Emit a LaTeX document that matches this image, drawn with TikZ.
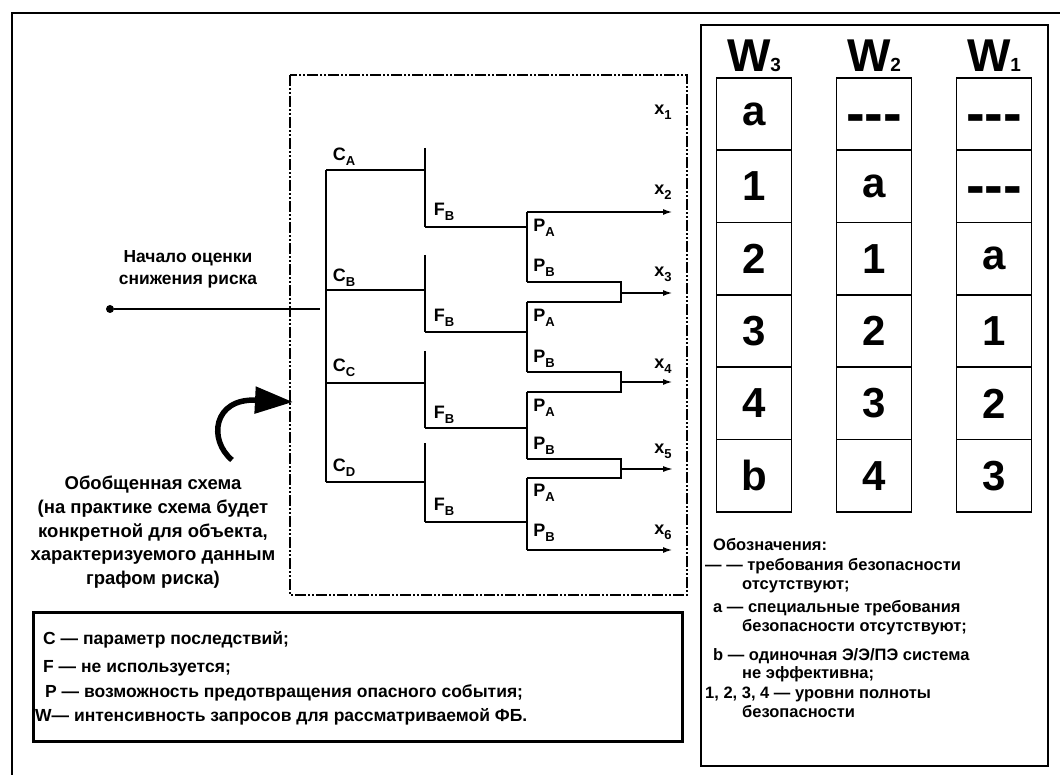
\documentclass[tikz,border=0pt]{standalone}
\usepackage{fontspec}
\usepackage{graphicx}
\setmainfont{Liberation Sans}
\usetikzlibrary{arrows.meta}
\newcommand\lsub[1]{\raisebox{-0.5ex}{\fontsize{13}{14}\selectfont #1}}
\newcommand\tdash{\raisebox{-18pt}[0pt][0pt]{\fontsize{56}{56}\selectfont -{}-{}-}}
\newcommand\wsub[1]{\fontsize{19}{19}\selectfont #1}
\begin{document}
\begin{tikzpicture}[x=1pt,y=-1pt,
  ln/.style={line width=2.7pt},
  lnt/.style={line width=1.5pt},
  arr/.style={-{Latex[length=10pt,width=6pt]}},
  lab/.style={font=\fontsize{18}{20}\selectfont\bfseries, inner sep=0pt},
  txt/.style={font=\fontsize{17.4}{19}\selectfont\bfseries, inner sep=0pt},
  gtxt/.style={font=\fontsize{18.5}{20}\selectfont\bfseries, inner sep=0pt},
  lg/.style={font=\fontsize{17.5}{19}\selectfont\bfseries, inner sep=0pt, anchor=base west},
  rg/.style={font=\fontsize{16.5}{18}\selectfont\bfseries, inner sep=0pt, anchor=base west},
  cell/.style={draw, line width=1.8pt, minimum width=75pt, minimum height=72.3pt, inner sep=0pt, font=\fontsize{42}{44}\selectfont\bfseries},
  whead/.style={inner sep=0pt, anchor=base, font=\fontsize{46}{48}\selectfont\bfseries},
  dd/.style={line width=2.8pt, dash pattern=on 11pt off 2pt on 2pt off 2pt on 2pt off 2pt}]
\useasboundingbox (0,0) rectangle (1060,775);
% outer frame
\draw[line width=2.5pt] (12,13) rectangle (1080,800);
% dash-dot frame
\draw[dd] (290,75) rectangle (687,595);

% start of assessment
\node[circle, fill, inner sep=0pt, minimum size=8pt] (start) at (110,309) {};
\coordinate (inp) at (320,309);
\draw[line width=2.2pt] (start) -- (inp);
\node[txt] (t1) at (188,258) {Начало оценки};
\node[txt] (t2) at (188,282) {снижения риска};

% C level
\coordinate (c0) at (326,170);
\coordinate (c1) at (326,290);
\coordinate (c2) at (326,383);
\coordinate (c3) at (326,482);
\draw[ln] (c0) -- (c3);
\coordinate (f0) at (425,170);
\coordinate (f1) at (425,290);
\coordinate (f2) at (425,383);
\coordinate (f3) at (425,482);
\draw[ln] (c0) -- (f0);
\draw[ln] (c1) -- (f1);
\draw[lnt] (c2) -- (f2);
\draw[ln] (c3) -- (f3);
\node[lab] (lca) at (344,157) {C\lsub{A}};
\node[lab] (lcb) at (344,278) {C\lsub{B}};
\node[lab] (lcc) at (344,368) {C\lsub{C}};
\node[lab] (lcd) at (344,468) {C\lsub{D}};

% F level
\coordinate (fa0) at (425,148); \coordinate (fb0) at (425,227);
\coordinate (fa1) at (425,255); \coordinate (fb1) at (425,332);
\coordinate (fa2) at (425,351); \coordinate (fb2) at (425,428);
\coordinate (fa3) at (425,443); \coordinate (fb3) at (425,522);
\coordinate (p0) at (527,227);
\coordinate (p1) at (527,332);
\coordinate (p2) at (527,428);
\coordinate (p3) at (527,522);
\draw[ln] (fa0) -- (fb0);
\draw[ln] (fa1) -- (fb1);
\draw[ln] (fa2) -- (fb2);
\draw[ln] (fa3) -- (fb3);
\draw[ln] (fb0) -- (p0);
\draw[lnt] (fb1) -- (p1);
\draw[ln] (fb2) -- (p2);
\draw[lnt] (fb3) -- (p3);
\node[lab] (lf0) at (444,212) {F\lsub{B}};
\node[lab] (lf1) at (444,318) {F\lsub{B}};
\node[lab] (lf2) at (444,415) {F\lsub{B}};
\node[lab] (lf3) at (444,507) {F\lsub{B}};

% P level
\coordinate (pa0) at (527,212); \coordinate (pb0) at (527,282);
\coordinate (pa1) at (527,302); \coordinate (pb1) at (527,372);
\coordinate (pa2) at (527,392); \coordinate (pb2) at (527,459);
\coordinate (pa3) at (527,478); \coordinate (pb3) at (527,550);
\draw[ln] (pa0) -- (pb0);
\draw[ln] (pa1) -- (pb1);
\draw[ln] (pa2) -- (pb2);
\draw[ln] (pa3) -- (pb3);
\node[lab] (lpa0) at (544,228) {P\lsub{A}};
\node[lab] (lpb0) at (544,268) {P\lsub{B}};
\node[lab] (lpa1) at (544,318) {P\lsub{A}};
\node[lab] (lpb1) at (544,359) {P\lsub{B}};
\node[lab] (lpa2) at (544,408) {P\lsub{A}};
\node[lab] (lpb2) at (544,446) {P\lsub{B}};
\node[lab] (lpa3) at (544,493) {P\lsub{A}};
\node[lab] (lpb3) at (544,533) {P\lsub{B}};

% outcomes
\coordinate (o2) at (673,212);
\coordinate (o3) at (673,293);
\coordinate (o4) at (673,382);
\coordinate (o5) at (673,469);
\coordinate (o6) at (673,550);
\coordinate (m3) at (621,293);
\coordinate (m4) at (621,382);
\coordinate (m5) at (621,469);
\draw[ln,arr] (pa0) -- (o2);
\draw[ln] (pb0) -| (m3) |- (pa1);
\draw[ln,arr] (m3) -- (o3);
\draw[ln] (pb1) -| (m4) |- (pa2);
\draw[ln,arr] (m4) -- (o4);
\draw[lnt] (pb2) -| (m5);
\draw[ln] (m5) |- (pa3);
\draw[lnt,arr] (m5) -- (o5);
\draw[ln,arr] (pb3) -- (o6);
\node[lab] (x1) at (663,112) {x\lsub{1}};
\node[lab] (x2) at (663,192) {x\lsub{2}};
\node[lab] (x3) at (663,274) {x\lsub{3}};
\node[lab] (x4) at (663,366) {x\lsub{4}};
\node[lab] (x5) at (663,451) {x\lsub{5}};
\node[lab] (x6) at (663,532) {x\lsub{6}};

% generalized scheme note and curved arrow
\node[gtxt] (g1) at (153,485) {Обобщенная схема};
\node[gtxt] (g2) at (153,509) {(на практике схема будет};
\node[gtxt] (g3) at (153,533) {конкретной для объекта,};
\node[gtxt] (g4) at (153,557) {характеризуемого данным};
\node[gtxt] (g5) at (153,580) {графом риска)};
\coordinate (ca) at (232,460);
\coordinate (cb) at (293,402);
\draw[line width=5.5pt, -{Triangle[length=38pt,width=26pt]}] (ca) .. controls (208,440) and (213,398) .. (cb);

% bottom-left legend
\draw[line width=3pt] (33,612) rectangle (682,741);
\node[lg] (l1) at (43,644) {C — параметр последствий;};
\node[lg] (l2) at (43,672) {F — не используется;};
\node[lg] (l3) at (45,697) {P — возможность предотвращения опасного события;};
\node[lg] (l4) at (35,721) {W— интенсивность запросов для рассматриваемой ФБ.};

% right panel
\draw[line width=2.5pt] (701,25) rectangle (1048,766);
\node[whead] (h3) at (754,72) {W\wsub{3}};
\node[whead] (h2) at (874,72) {W\wsub{2}};
\node[whead] (h1) at (994,72) {W\wsub{1}};
\foreach \t [count=\i] in {a,1,2,3,4,b}
  \node[cell] (wc\i) at (754,{41.85+72.3*\i}) {\t};
\foreach \t [count=\i] in {\tdash,a,1,2,3,4}
  \node[cell] (wb\i) at (874,{41.85+72.3*\i}) {\t};
\foreach \t [count=\i] in {\tdash,\tdash,a,1,2,3}
  \node[cell] (wa\i) at (994,{41.85+72.3*\i}) {\t};

\node[rg] (r0) at (713,550) {Обозначения:};
\node[rg] (r1) at (705,570) {— — требования безопасности};
\node[rg] (r2) at (742,589) {отсутствуют;};
\node[rg] (r3) at (713,612) {a — специальные требования};
\node[rg] (r4) at (742,631) {безопасности отсутствуют;};
\node[rg] (r5) at (713,660) {b — одиночная Э/Э/ПЭ система};
\node[rg] (r6) at (742,678) {не эффективна;};
\node[rg] (r7) at (705,698) {1, 2, 3, 4 — уровни полноты};
\node[rg] (r8) at (742,717) {безопасности};
\end{tikzpicture}
\end{document}
